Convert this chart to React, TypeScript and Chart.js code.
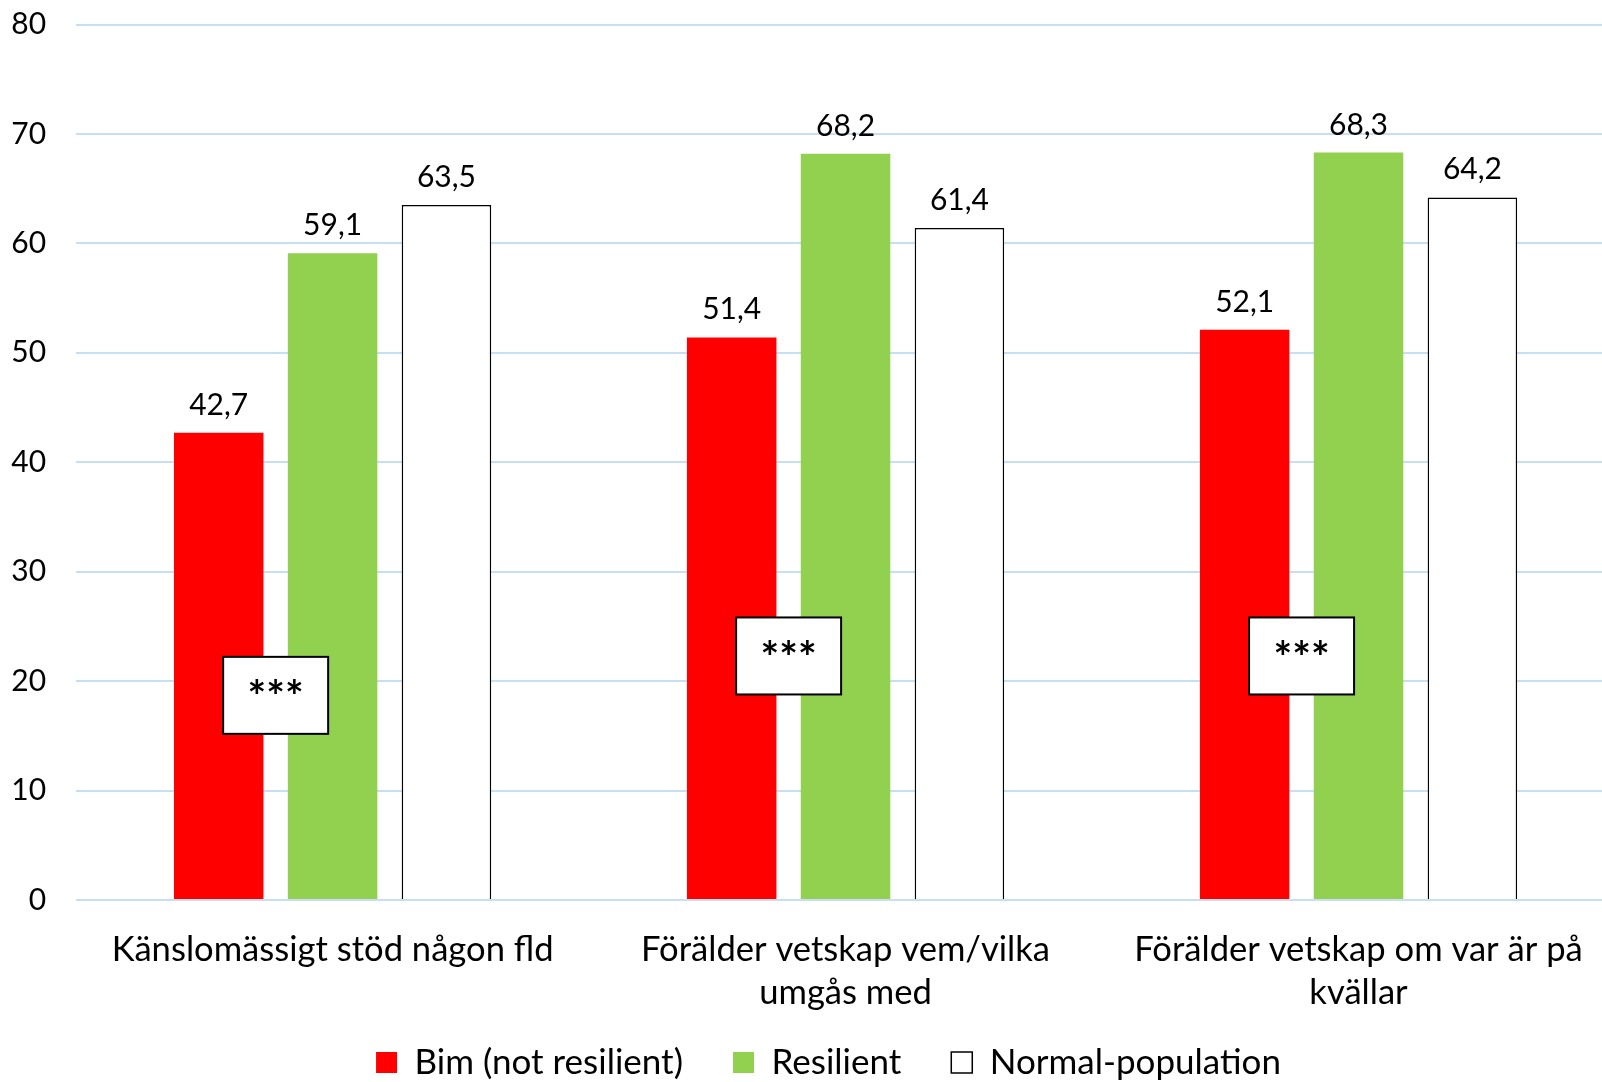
import { useEffect, useRef } from "react";
import { Chart, registerables } from "chart.js";

Chart.register(...registerables);

const categories: string[][] = [
  ["Känslomässigt stöd någon fld"],
  ["Förälder vetskap vem/vilka", "umgås med"],
  ["Förälder vetskap om var är på", "kvällar"],
];
const seriesNames = ["Bim (not resilient)", "Resilient", "Normal-population"];
const bimValues = [42.7, 51.4, 52.1];
const resilientValues = [59.1, 68.2, 68.3];
const normalValues = [63.5, 61.4, 64.2];
const yTickValues = [0, 10, 20, 30, 40, 50, 60, 70, 80];
const significanceMarks = ["***", "***", "***"];
const significanceLevels = [18.7, 22.3, 22.3];

const FONT = "Lato, 'Open Sans', sans-serif";
const CANVAS_W = 1615;
const CANVAS_H = 1110;

const valueLabelPlugin = {
  id: "valueLabels",
  afterDatasetsDraw(chart: any) {
    const ctx = chart.ctx;
    ctx.save();
    ctx.font = `30px ${FONT}`;
    ctx.fillStyle = "#000";
    ctx.textAlign = "center";
    ctx.textBaseline = "alphabetic";
    chart.data.datasets.forEach((ds: any, di: number) => {
      const meta = chart.getDatasetMeta(di);
      meta.data.forEach((el: any, i: number) => {
        const v = ds.data[i] as number;
        ctx.fillText(v.toFixed(1).replace(".", ","), el.x, el.y - 18);
      });
    });
    ctx.restore();
  },
};

const significancePlugin = {
  id: "significanceBoxes",
  afterDatasetsDraw(chart: any) {
    const ctx = chart.ctx;
    const yScale = chart.scales.y;
    const m0 = chart.getDatasetMeta(0);
    const m1 = chart.getDatasetMeta(1);
    ctx.save();
    significanceMarks.forEach((mark, i) => {
      const cx = (m0.data[i].x + m1.data[i].x) / 2;
      const cy = yScale.getPixelForValue(significanceLevels[i]);
      const w = 105;
      const h = 77;
      ctx.fillStyle = "#fff";
      ctx.fillRect(cx - w / 2, cy - h / 2, w, h);
      ctx.strokeStyle = "#000";
      ctx.lineWidth = 2;
      ctx.strokeRect(cx - w / 2, cy - h / 2, w, h);
      ctx.fillStyle = "#000";
      ctx.font = `bold 44px ${FONT}`;
      ctx.textAlign = "center";
      ctx.textBaseline = "alphabetic";
      ctx.fillText(mark, cx, cy + 17);
    });
    ctx.restore();
  },
};

// nudges the library legend into the reference's place
const legendPlacePlugin = {
  id: "legendPlace",
  afterLayout(chart: any) {
    const lg = chart.legend;
    if (!lg) return;
    lg.top -= 20;
    lg.bottom -= 20;
    lg.left += 21;
    lg.right += 21;
  },
};

export default function App() {
  const ref = useRef<HTMLCanvasElement | null>(null);

  useEffect(() => {
    if (!ref.current) return;
    const chart = new Chart(ref.current, {
      type: "bar",
      data: {
        labels: categories,
        datasets: [
          {
            label: seriesNames[0],
            data: bimValues,
            backgroundColor: "#FF0000",
            borderWidth: 0,
          },
          {
            label: seriesNames[1],
            data: resilientValues,
            backgroundColor: "#92D050",
            borderWidth: 0,
          },
          {
            label: seriesNames[2],
            data: normalValues,
            backgroundColor: "#FFFFFF",
            borderColor: "#000000",
            borderWidth: 1.5,
          },
        ],
      },
      options: {
        responsive: false,
        animation: false,
        devicePixelRatio: 1,
        datasets: {
          bar: {
            categoryPercentage: 0.666,
            barPercentage: 0.786,
          },
        },
        layout: {
          padding: { left: 0, top: 24.5, right: 0, bottom: 0 },
        },
        plugins: {
          tooltip: { enabled: false },
          legend: {
            position: "bottom",
            labels: {
              font: { family: FONT, size: 35 },
              color: "#000",
              boxWidth: 21,
              boxHeight: 21,
              padding: 50,
            },
          },
        },
        scales: {
          x: {
            grid: { display: false, drawTicks: false },
            border: { display: false },
            ticks: {
              color: "#000",
              font: { family: FONT, size: 34.6, lineHeight: 1.243 },
              padding: 28.5,
              maxRotation: 0,
              autoSkip: false,
            },
            afterFit(scale: any) {
              scale.height = 115;
            },
          },
          y: {
            min: 0,
            max: 80,
            afterBuildTicks(scale: any) {
              scale.ticks = yTickValues.map((v) => ({ value: v }));
            },
            grid: {
              color: "#C6DFF4",
              lineWidth: 2,
              drawTicks: true,
              tickLength: 30,
              tickColor: "rgba(0,0,0,0)",
            },
            border: { display: false },
            ticks: {
              color: "#000",
              font: { family: FONT, size: 30 },
              padding: 0,
            },
            afterFit(scale: any) {
              scale.width = 76.1;
            },
          },
        },
      },
      plugins: [valueLabelPlugin, significancePlugin, legendPlacePlugin],
    });
    return () => chart.destroy();
  }, []);

  return (
    <div
      style={{
        position: "fixed",
        left: 0,
        top: 0,
        width: 1602,
        height: 1082,
        overflow: "hidden",
        background: "#fff",
      }}
    >
      <canvas
        ref={ref}
        width={CANVAS_W}
        height={CANVAS_H}
        style={{ display: "block", width: CANVAS_W, height: CANVAS_H }}
      />
    </div>
  );
}
